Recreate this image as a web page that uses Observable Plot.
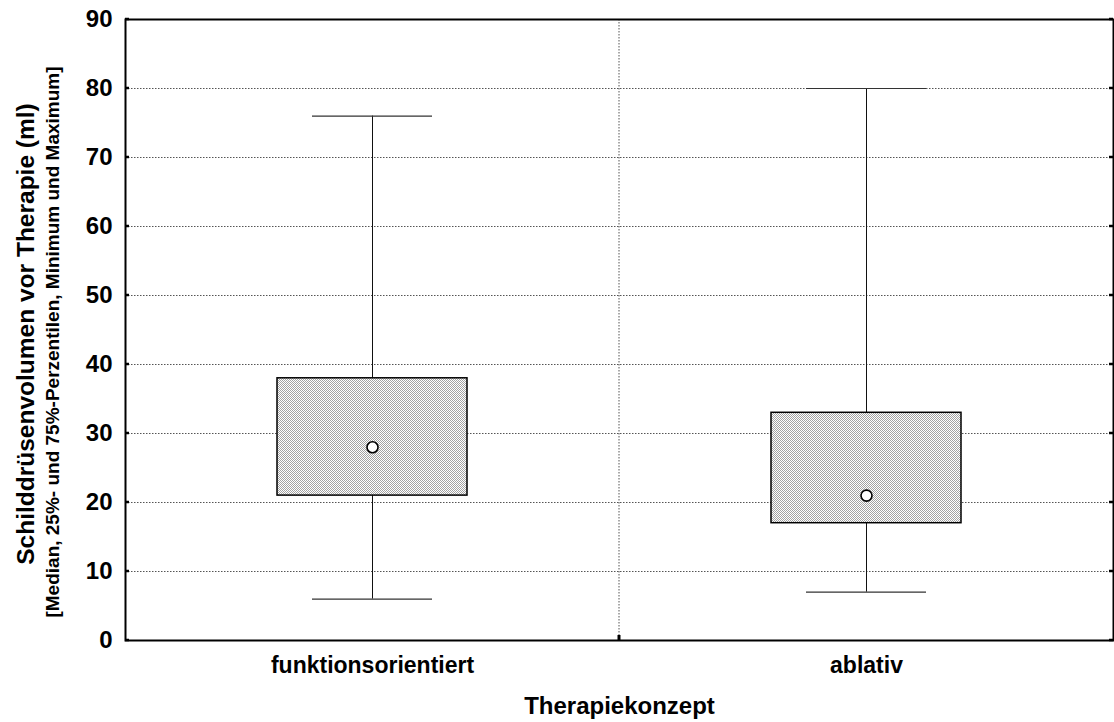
<!DOCTYPE html>
<html><head><meta charset="utf-8">
<script src="https://cdn.jsdelivr.net/npm/d3@7"></script>
<script src="https://cdn.jsdelivr.net/npm/@observablehq/plot@0.6"></script>
<style>body{margin:0;background:#fff} svg{display:block}</style>
</head><body><div id="chart"></div>
<script>
const categories = ["funktionsorientiert", "ablativ"];
const minimum = [6, 7];
const q1 = [21, 17];
const median = [28, 21];
const q3 = [38, 33];
const maximum = [76, 80];
const yTicks = [0, 10, 20, 30, 40, 50, 60, 70, 80, 90];
const gridTicks = [10, 20, 30, 40, 50, 60, 70, 80];
const yTitle = "Schilddrüsenvolumen vor Therapie (ml)";
const ySubtitle = "[Median, 25%- und 75%-Perzentilen, Minimum und Maximum]";
const xTitle = "Therapiekonzept";

const rows = categories.map((c, i) => ({cat: c, min: minimum[i], q1: q1[i], med: median[i], q3: q3[i], max: maximum[i]}));
const font = "'Liberation Sans', Arial, Helvetica, sans-serif";

function pick(args) {
  const scales = args.find(a => a && typeof a.y === "function" && typeof a.x === "function");
  const dims = args.find(a => a && typeof a === "object" && "marginLeft" in a && "width" in a);
  return {scales, dims};
}

// pattern definition for the box fill
function defsMark() {
  const defs = d3.create("svg:defs");
  const p = defs.append("pattern").attr("id", "boxfill").attr("width", 2).attr("height", 2).attr("patternUnits", "userSpaceOnUse");
  p.append("rect").attr("width", 2).attr("height", 2).attr("fill", "#ffffff");
  p.append("rect").attr("width", 1).attr("height", 1).attr("fill", "#a2a2a2");
  p.append("rect").attr("x", 1).attr("y", 1).attr("width", 1).attr("height", 1).attr("fill", "#a2a2a2");
  return defs.node();
}

// dotted separator between the two categories + small tick on the bottom axis
function separatorMark(...args) {
  const {scales, dims} = pick(args);
  const x = scales.x(categories[1]);
  const g = d3.create("svg:g");
  g.append("line").attr("x1", x).attr("x2", x)
    .attr("y1", dims.marginTop).attr("y2", dims.height - dims.marginBottom)
    .attr("stroke", "#555").attr("stroke-width", 1).attr("stroke-dasharray", "1.5,1.5");
  g.append("line").attr("x1", x).attr("x2", x)
    .attr("y1", dims.height - dims.marginBottom - 5).attr("y2", dims.height - dims.marginBottom)
    .attr("stroke", "#000").attr("stroke-width", 3);
  return g.node();
}

// small inward ticks on left and right frame edges
function innerTicksMark(...args) {
  const {scales, dims} = pick(args);
  const xl = dims.marginLeft, xr = dims.width - dims.marginRight;
  const g = d3.create("svg:g").attr("stroke", "#000").attr("stroke-width", 2.5);
  for (const v of yTicks) {
    const y = scales.y(v);
    g.append("line").attr("x1", xl).attr("x2", xl + 4).attr("y1", y).attr("y2", y);
    g.append("line").attr("x1", xr - 4).attr("x2", xr).attr("y1", y).attr("y2", y);
  }
  return g.node();
}

const boxInset = 152;
const capInset = 187;

const chart = Plot.plot({
  width: 1114,
  height: 722,
  marginLeft: 125,
  marginRight: 1,
  marginTop: 19,
  marginBottom: 82,
  style: {fontFamily: font, background: "#fff", color: "#000"},
  x: {type: "band", domain: categories, padding: 0},
  y: {domain: [0, 90]},
  marks: [
    defsMark,
    Plot.ruleY(gridTicks, {y: d => d, stroke: "#555", strokeWidth: 1, strokeDasharray: "1.5,1.5"}),
    separatorMark,
    Plot.ruleX(rows, {x: "cat", y1: "min", y2: "max", stroke: "#111", strokeWidth: 1}),
    Plot.tickY(rows, {x: "cat", y: "min", stroke: "#333", strokeWidth: 1.2, insetLeft: capInset, insetRight: capInset}),
    Plot.tickY(rows, {x: "cat", y: "max", stroke: "#333", strokeWidth: 1.2, insetLeft: capInset, insetRight: capInset}),
    Plot.barY(rows, {x: "cat", y1: "q1", y2: "q3", fill: "url(#boxfill)", stroke: "#000", strokeWidth: 1.5, insetLeft: boxInset, insetRight: boxInset}),
    Plot.dot(rows, {x: "cat", y: "med", r: 5.5, fill: "#fff", stroke: "#000", strokeWidth: 1.6}),
    Plot.frame({stroke: "#000", strokeWidth: 2}),
    innerTicksMark,
    Plot.axisY({ticks: yTicks, tickSize: 0, tickPadding: 13, fontSize: 24, fontWeight: "bold", label: null}),
    Plot.axisX({tickSize: 0, tickPadding: 16, fontSize: 23, fontWeight: "bold", label: null}),
    Plot.text([yTitle], {text: d => d, frameAnchor: "left", textAnchor: "middle", dx: -99, dy: 4, rotate: -90, fontSize: 24.5, fontWeight: "bold", fill: "#000"}),
    Plot.text([ySubtitle], {text: d => d, frameAnchor: "left", textAnchor: "middle", dx: -73, dy: 12, rotate: -90, fontSize: 19, fontWeight: "bold", fill: "#000"}),
    Plot.text([xTitle], {text: d => d, frameAnchor: "bottom", lineAnchor: "middle", dy: 66, fontSize: 24, fontWeight: "bold", fill: "#000"})
  ]
});
document.getElementById("chart").appendChild(chart);
</script>
</body></html>
